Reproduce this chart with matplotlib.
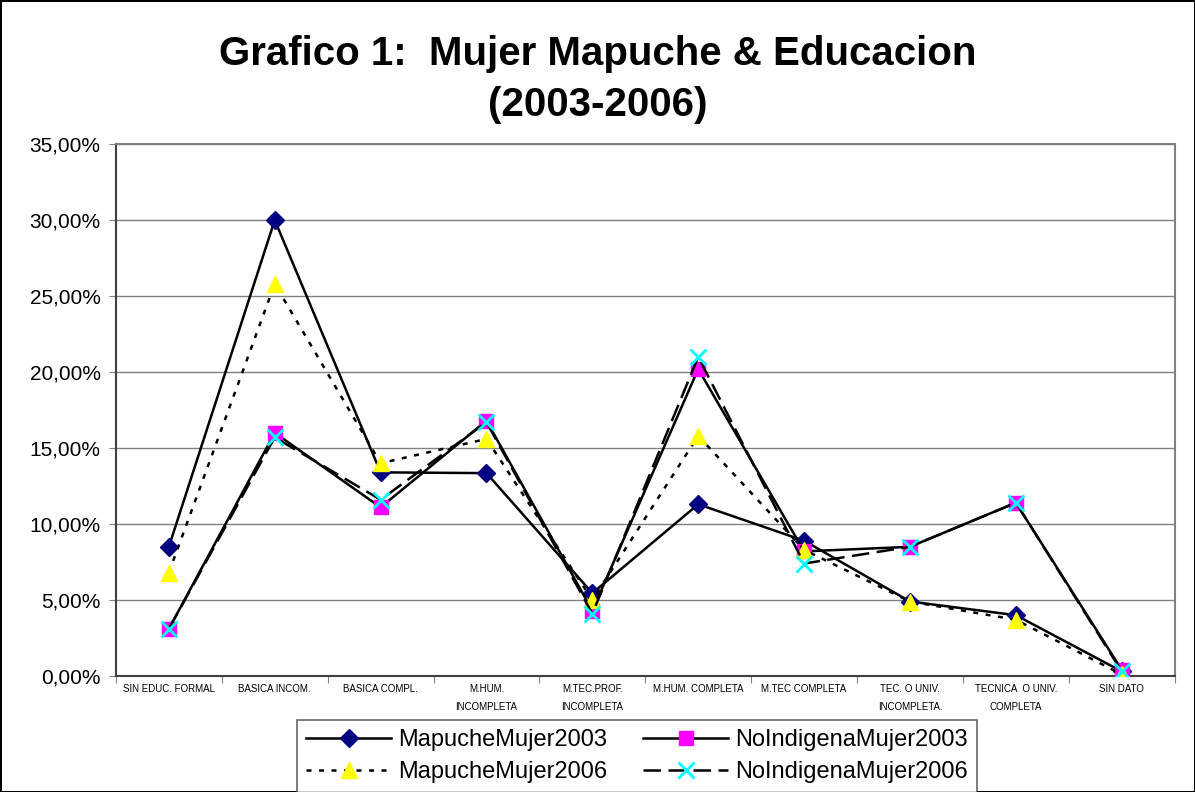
import matplotlib.pyplot as plt
from matplotlib.ticker import FuncFormatter, FixedLocator

categories = ['SIN EDUC. FORMAL', 'BASICA INCOM.', 'BASICA COMPL.', 'M.HUM.\nINCOMPLETA',
              'M.TEC.PROF.\nINCOMPLETA', 'M.HUM. COMPLETA', 'M.TEC COMPLETA',
              'TEC. O UNIV.\nINCOMPLETA.', 'TECNICA  O UNIV.\nCOMPLETA', 'SIN DATO']

mapuche_2003 = [8.5, 30.0, 13.4, 13.35, 5.45, 11.3, 8.9, 4.9, 4.0, 0.3]
noindigena_2003 = [3.1, 16.0, 11.1, 16.8, 4.3, 20.2, 8.2, 8.5, 11.4, 0.4]
mapuche_2006 = [6.8, 25.8, 14.0, 15.6, 5.0, 15.8, 8.3, 4.9, 3.7, 0.1]
noindigena_2006 = [3.1, 15.7, 11.6, 16.7, 4.1, 21.0, 7.4, 8.5, 11.4, 0.3]

plt.rcParams['font.family'] = ['Liberation Sans', 'DejaVu Sans']

fig = plt.figure(figsize=(11.95, 7.92), dpi=100)
fig.patch.set_edgecolor('black')
fig.patch.set_linewidth(2)
ax = fig.add_axes([0.097, 0.1465, 0.886, 0.6715])

x = list(range(len(categories)))

l1, = ax.plot(x, [v / 100 for v in mapuche_2003], color='black', lw=1.8, marker='D',
              ms=9, mfc='#000080', mec='#000080', label='MapucheMujer2003', zorder=3)
l2, = ax.plot(x, [v / 100 for v in noindigena_2003], color='black', lw=1.8, marker='s',
              ms=10, mfc='#FF00FF', mec='#FF00FF', label='NoIndigenaMujer2003', zorder=3)
l3, = ax.plot(x, [v / 100 for v in mapuche_2006], color='black', lw=1.8, ls=(0, (2, 3)), marker='^',
              ms=11, mfc='#FFFF00', mec='#FFFF00', label='MapucheMujer2006', zorder=3)
l4, = ax.plot(x, [v / 100 for v in noindigena_2006], color='black', lw=1.8, ls=(0, (7, 3)), marker='x',
              ms=11, mew=2, mec='#00FFFF', label='NoIndigenaMujer2006', zorder=3)

ax.set_xlim(-0.5, len(categories) - 0.5)
ax.set_ylim(0, 0.35)
ax.set_yticks([i * 0.05 for i in range(8)])
ax.yaxis.set_major_formatter(FuncFormatter(lambda v, p: ('%.2f%%' % (v * 100)).replace('.', ',')))
ax.tick_params(axis='y', labelsize=15, length=5, color='#808080', pad=6)
ax.grid(axis='y', color='#808080', lw=1)
ax.set_axisbelow(True)

ax.xaxis.set_major_locator(FixedLocator([i - 0.5 for i in range(len(categories) + 1)]))
ax.xaxis.set_minor_locator(FixedLocator(x))
ax.set_xticklabels([], minor=False)
ax.set_xticklabels(categories, minor=True, fontsize=7, linespacing=2.0, va='top')
ax.tick_params(axis='x', which='major', length=5, color='#808080')
ax.tick_params(axis='x', which='minor', length=0, pad=6)

for s in ax.spines.values():
    s.set_color('#808080')
    s.set_linewidth(1.5)
ax.spines['left'].set_color('#404040')
ax.spines['bottom'].set_color('#404040')

fig.text(0.5, 0.932, 'Grafico 1:  Mujer Mapuche & Educacion', ha='center', va='center',
         fontsize=29, fontweight='bold')
fig.text(0.5, 0.867, '(2003-2006)', ha='center', va='center', fontsize=29, fontweight='bold')

# row-wise order like the original legend
leg = ax.legend([l1, l3, l2, l4], [l1.get_label(), l3.get_label(), l2.get_label(), l4.get_label()],
                ncol=2, loc='upper left', bbox_to_anchor=(0.2485, 0.0909),
                bbox_transform=fig.transFigure, fontsize=17, handlelength=3.6,
                handletextpad=0.3, columnspacing=1.5, borderpad=0.4, labelspacing=0.42,
                frameon=True, fancybox=False, borderaxespad=0)
leg.get_frame().set_edgecolor('#404040')
leg.get_frame().set_linewidth(1.2)

fig.savefig('out.png', dpi=100)
